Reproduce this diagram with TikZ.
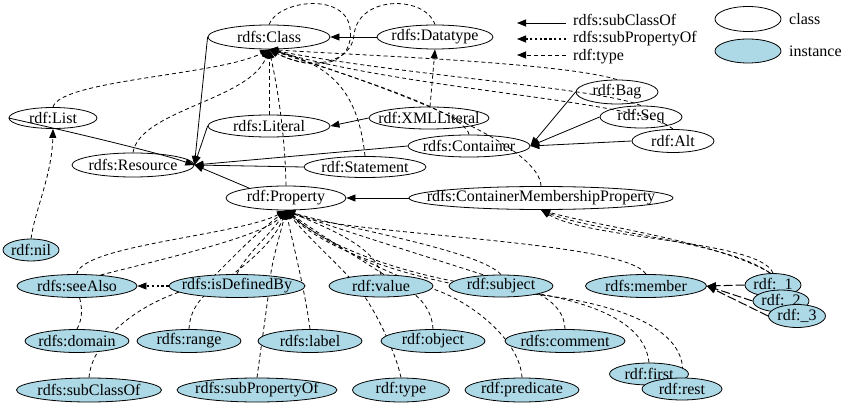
\documentclass[tikz,border=0pt]{standalone}
\usepackage{fontspec}
\setmainfont{Liberation Serif}
\usetikzlibrary{shapes.geometric,arrows.meta}
\pgfdeclarelayer{edges}
\pgfsetlayers{edges,main}
\definecolor{instfill}{HTML}{ADD8E6}
\tikzset{
 base/.style={ellipse, draw=black, line width=0.8pt, inner sep=0pt},
 cls/.style={base},
 ins/.style={base, fill=instfill},
 lbl/.style={inner sep=0pt, font=\fontsize{16}{19}\selectfont, text=black},
 tip/.style={-{Triangle[length=9pt,width=7pt]}},
 subc/.style={tip, line width=0.8pt},
 typ/.style={tip, line width=0.8pt, dash pattern=on 4pt off 3pt},
 subp/.style={-{Triangle[length=9pt,width=7pt,line width=0.8pt]}, line width=2.4pt, dash pattern=on 2.4pt off 2.4pt},
 mem/.style={tip, line width=1pt, dash pattern=on 9pt off 3pt},
}
\newcommand\ent[6]{\node[#1, minimum width=#4pt, minimum height=#5pt, label={[name=#2-t, lbl]center:{#6}}] (#2) at (#3) {};}
\begin{document}
\begin{tikzpicture}[x=1pt,y=-1pt]
\useasboundingbox (0,0) rectangle (853,403);
% classes
\ent{cls}{class}{269,37}{122}{24}{rdfs:Class}
\ent{cls}{datatype}{435,37}{116}{24}{rdfs:Datatype}
\ent{cls}{list}{53,118}{88}{21}{rdf:List}
\ent{cls}{literal}{269,126}{122}{22}{rdfs:Literal}
\ent{cls}{resource}{133,165}{122}{24}{rdfs:Resource}
\ent{cls}{xmlliteral}{429,118}{120}{22}{rdf:XMLLiteral}
\ent{cls}{container}{469,146}{122}{22}{rdfs:Container}
\ent{cls}{statement}{365,167}{122}{21}{rdf:Statement}
\ent{cls}{property}{286,198}{120}{24}{rdf:Property}
\ent{cls}{cmp}{541,198}{264}{23}{rdfs:ContainerMembershipProperty}
\ent{cls}{bag}{617,92}{82}{24}{rdf:Bag}
\ent{cls}{seq}{641,117}{82}{22}{rdf:Seq}
\ent{cls}{alt}{673,141}{82}{23}{rdf:Alt}
% instances
\ent{ins}{nil}{31,250}{56}{22}{rdf:nil}
\ent{ins}{seealso}{77,286}{120}{23}{rdfs:seeAlso}
\ent{ins}{isdef}{237,286}{136}{23}{rdfs:isDefinedBy}
\ent{ins}{value}{381,286}{104}{22}{rdf:value}
\ent{ins}{subject}{501,286}{104}{22}{rdf:subject}
\ent{ins}{member}{646,286}{121}{23}{rdfs:member}
\ent{ins}{n1}{773,285}{56}{23}{rdf:\_1}
\ent{ins}{n2}{781,301}{56}{22}{rdf:\_2}
\ent{ins}{n3}{797,316}{57}{23}{rdf:\_3}
\ent{ins}{domain}{77,341}{104}{23}{rdfs:domain}
\ent{ins}{range}{189,341}{104}{23}{rdfs:range}
\ent{ins}{lab}{310,341}{104}{23}{rdfs:label}
\ent{ins}{object}{433,341}{104}{23}{rdf:object}
\ent{ins}{comment}{565,341}{120}{23}{rdfs:comment}
\ent{ins}{subclassof}{89,390}{145}{24}{rdfs:subClassOf}
\ent{ins}{subpropertyof}{257,390}{160}{24}{rdfs:subPropertyOf}
\ent{ins}{ty}{401,390}{97}{24}{rdf:type}
\ent{ins}{predicate}{522,390}{114}{24}{rdf:predicate}
\ent{ins}{first}{649,374}{79}{22}{rdf:first}
\ent{ins}{rest}{682,389}{80}{22}{rdf:rest}
% legend
\node[cls, minimum width=66pt, minimum height=25pt] (lgclass) at (748,19) {};
\node[ins, minimum width=66pt, minimum height=24pt] (lginst) at (748,51) {};
\node[lbl, anchor=west] (ltc) at (789,19) {class};
\node[lbl, anchor=west] (lti) at (789,51) {instance};
\node[lbl, anchor=west] (lt1) at (573,20) {rdfs:subClassOf};
\node[lbl, anchor=west] (lt2) at (573,39) {rdfs:subPropertyOf};
\node[lbl, anchor=west] (lt3) at (573,57) {rdf:type};
\coordinate (la1) at (566,23); \coordinate (lb1) at (517,23);
\coordinate (la2) at (566,39); \coordinate (lb2) at (517,39);
\coordinate (la3) at (566,55); \coordinate (lb3) at (517,55);
\begin{pgfonlayer}{edges}
% legend arrows
\draw[subc] (la1) -- (lb1);
\draw[subp] (la2) -- (lb2);
\draw[typ] (la3) -- (lb3);
% subClassOf
\draw[subc] (datatype.west) -- (class.east);
\draw[subc] (class.west) -- (resource.east);
\draw[subc] (list.west) .. controls (40,125) and (150,150) .. (resource.east);
\draw[subc] (literal.west) -- (resource.east);
\draw[subc] (container.west) -- (resource.east);
\draw[subc] (statement.west) -- (resource.east);
\draw[subc] (property.165) -- (resource.east);
\draw[subc] (xmlliteral.west) -- (literal.east);
\draw[subc] (bag.west) -- (container.east);
\draw[subc] (seq.west) -- (container.east);
\draw[subc] (alt.west) -- (container.east);
\draw[subc] (cmp.west) -- (property.east);
% subPropertyOf
\draw[subp] (isdef.west) -- (seealso.east);
\draw[mem] (n1.west) -- (member.east);
\draw[mem] (n2.west) -- (member.east);
\draw[mem] (n3.west) -- (member.east);
% rdf:type -> rdfs:Class
\draw[typ] (list.north) .. controls (60,80) and (220,75) .. (class.south);
\draw[typ] (resource.north) .. controls (140,110) and (250,100) .. (class.south);
\draw[typ] (literal.north) -- (class.south);
\draw[typ] (property.north) .. controls (285,130) and (276,80) .. (class.south);
\draw[typ] (class.north) .. controls (278,0) and (345,-8) .. (350,28) .. controls (355,62) and (320,75) .. (class.south);
\draw[typ] (datatype.north) .. controls (425,-5) and (358,-5) .. (354,35) .. controls (352,62) and (312,72) .. (class.south);
\draw[typ] (statement.north) .. controls (358,90) and (330,65) .. (class.south);
\draw[typ] (bag.north) .. controls (560,62) and (350,55) .. (class.south);
\draw[typ] (seq.north) .. controls (600,88) and (400,75) .. (class.south);
\draw[typ] (alt.north) .. controls (640,100) and (420,92) .. (class.south);
\draw[typ] (container.north) .. controls (465,110) and (330,70) .. (class.south);
\draw[typ] (cmp.north) .. controls (540,150) and (430,100) .. (class.south);
\draw[typ] (xmlliteral.85) -- (datatype.south);
\draw[typ] (nil.north) .. controls (35,210) and (52,175) .. (list.south);
% rdf:type -> rdf:Property
\draw[typ] (seealso.25) .. controls (180,255) and (265,235) .. (property.south);
\draw[typ] (domain.north) .. controls (90,305) and (70,285) .. (77,273) .. controls (85,245) and (240,235) .. (property.south);
\draw[typ] (subclassof.north) .. controls (92,340) and (140,300) .. (200,286) .. controls (215,280) and (235,250) .. (property.south);
\draw[typ] (range.north) .. controls (190,310) and (200,295) .. (225,280) .. controls (250,262) and (275,240) .. (property.south);
\draw[typ] (subpropertyof.north) .. controls (262,340) and (268,300) .. (270,280) .. controls (272,260) and (280,235) .. (property.south);
\draw[typ] (isdef.north) .. controls (245,255) and (270,235) .. (property.south);
\draw[typ] (lab.north) .. controls (305,290) and (292,240) .. (property.south);
\draw[typ] (value.north) .. controls (375,245) and (320,225) .. (property.south);
\draw[typ] (ty.north) .. controls (395,350) and (375,310) .. (360,290) .. controls (345,270) and (310,240) .. (property.south);
\draw[typ] (object.north) .. controls (432,310) and (420,295) .. (400,285) .. controls (370,265) and (320,235) .. (property.south);
\draw[typ] (predicate.north) .. controls (520,340) and (470,300) .. (430,288) .. controls (390,275) and (320,240) .. (property.south);
\draw[typ] (subject.north) .. controls (480,250) and (330,225) .. (property.south);
\draw[typ] (comment.north) .. controls (565,315) and (555,300) .. (530,290) .. controls (470,270) and (340,230) .. (property.south);
\draw[typ] (first.north) .. controls (645,325) and (600,300) .. (500,288) .. controls (420,280) and (330,250) .. (property.south);
\draw[typ] (rest.north) .. controls (690,330) and (620,300) .. (510,292) .. controls (430,285) and (330,255) .. (property.south);
\draw[typ] (member.north) .. controls (625,240) and (340,235) .. (property.south);
% rdf:type -> rdfs:ContainerMembershipProperty
\draw[typ] (n1.north) .. controls (760,240) and (590,240) .. (cmp.south);
\draw[typ] (n2.north) .. controls (775,245) and (600,235) .. (cmp.south);
\draw[typ] (n3.north) .. controls (790,250) and (610,230) .. (cmp.south);
\end{pgfonlayer}
\end{tikzpicture}
\end{document}
